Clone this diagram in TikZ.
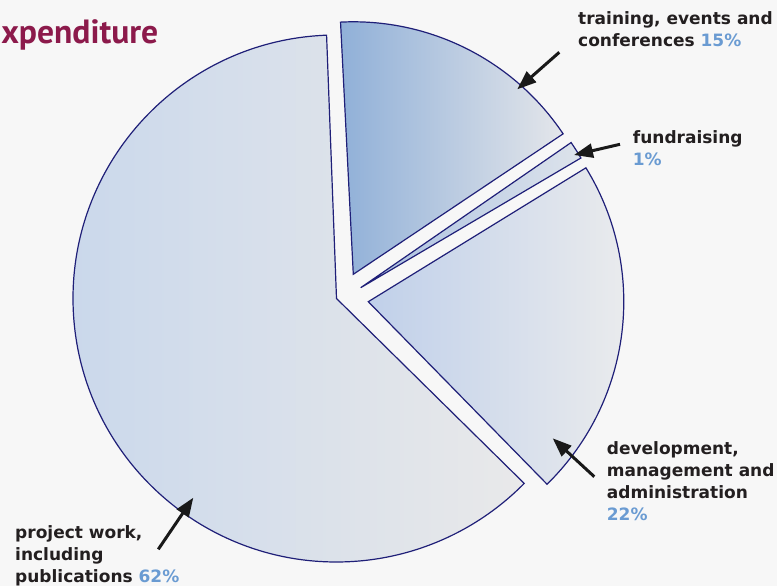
\documentclass[tikz,border=0pt]{standalone}
\usepackage{fontspec}
\setmainfont{DejaVu Sans}
\newfontfamily\titlefont{PT Sans}
\usetikzlibrary{arrows.meta}
\definecolor{bg}{HTML}{F7F7F7}
\definecolor{edge}{HTML}{1F1F78}
\definecolor{titlecol}{HTML}{8C1A4B}
\definecolor{labelcol}{HTML}{231F20}
\definecolor{pctcol}{HTML}{6A9BD2}
\definecolor{bigL}{HTML}{CAD8EB}
\definecolor{bigR}{HTML}{E9E9EA}
\definecolor{trL}{HTML}{90B0D8}
\definecolor{trR}{HTML}{E4E6EA}
\definecolor{fuL}{HTML}{A9C0E0}
\definecolor{fuR}{HTML}{DDE3EB}
\definecolor{deL}{HTML}{C0D0EA}
\definecolor{deR}{HTML}{EDEDED}
\newcommand\pctc[1]{\textcolor{pctcol}{#1}}
\begin{document}
\begin{tikzpicture}[x=1pt,y=1pt,
  slice/.style={draw=edge, line width=1.2pt, line join=miter},
  lbl/.style={anchor=base west, inner sep=0pt, text=labelcol,
    font=\fontsize{17}{22}\selectfont\bfseries},
  pointer/.style={draw=black!90, line width=3pt,
    -{Triangle[length=19pt,width=14pt]}}]
\useasboundingbox (0,0) rectangle (777,586);
\fill[bg] (0,0) rectangle (777,586);

% title
\node[anchor=base east, inner sep=0pt, text=titlecol,
  font=\titlefont\bfseries\fontsize{33.6}{38}\selectfont] (title) at (158.5,542.7) {xpenditure};

% slices
\coordinate (cbig) at (336.5,287.5);
\coordinate (ctr) at (353.3,311.7);
\coordinate (cfu) at (360.7,298.3);
\coordinate (cde) at (368.3,284.3);

\draw[slice, left color=bigL, right color=bigR]
  (cbig) -- ++(92.16:263.5) arc[start angle=92.16, end angle=315.43, radius=263.5] -- cycle;
\draw[slice, left color=trL, right color=trR]
  (ctr) -- ++(33.8:252.5) arc[start angle=33.8, end angle=92.9, radius=252.5] -- cycle;
\draw[slice, left color=fuL, right color=fuR]
  (cfu) -- ++(30.5:255.6) arc[start angle=30.5, end angle=34.6, radius=255.6] -- cycle;
\draw[slice, left color=deL, right color=deR]
  (cde) -- ++(-45.6:255.5) arc[start angle=-45.6, end angle=31.6, radius=255.5] -- cycle;

% labels
\node[lbl] (ltr) at (578,561) {\begin{tabular}[t]{@{}l@{}}training, events and\\conferences \pctc{15\%}\end{tabular}};
\node[lbl] (lfu) at (632.7,442) {\begin{tabular}[t]{@{}l@{}}fundraising\\\pctc{1\%}\end{tabular}};
\node[lbl] (lde) at (606.7,131) {\begin{tabular}[t]{@{}l@{}}development,\\management and\\administration\\\pctc{22\%}\end{tabular}};
\node[lbl] (lpr) at (15,47) {\begin{tabular}[t]{@{}l@{}}project work,\\including\\publications \pctc{62\%}\end{tabular}};

% arrows
\coordinate (trtail) at (559.3,533.7);
\coordinate (trtip) at (517.3,496.7);
\coordinate (futail) at (620,441.7);
\coordinate (futip) at (574,431);
\coordinate (detail) at (594.3,109.3);
\coordinate (detip) at (552.7,147.7);
\coordinate (prtail) at (158.3,36.7);
\coordinate (prtip) at (193.3,88.3);
\draw[pointer] (trtail) -- (trtip);
\draw[pointer] (futail) -- (futip);
\draw[pointer] (detail) -- (detip);
\draw[pointer] (prtail) -- (prtip);
\end{tikzpicture}
\end{document}
